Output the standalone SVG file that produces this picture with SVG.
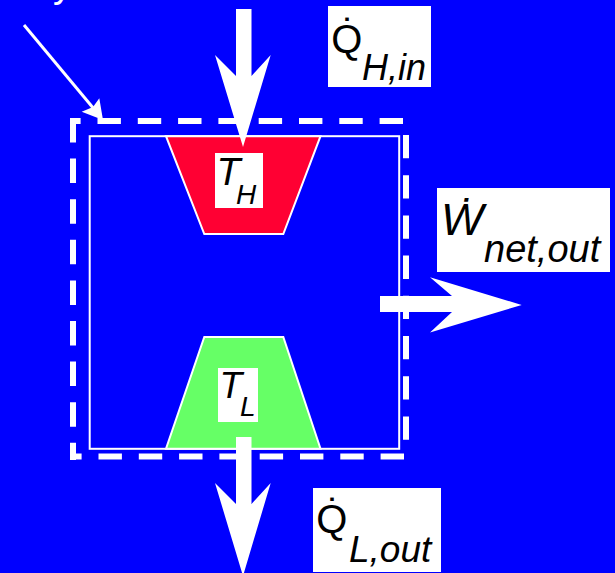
<svg xmlns="http://www.w3.org/2000/svg" width="615" height="573" viewBox="0 0 615 573">
<style>
.lbl{fill:#000;font-family:"Liberation Sans",Arial,sans-serif}
.it{font-style:italic}
.box{fill:#fff}
.arr{fill:#fff}
.dash{stroke:#fff;stroke-width:6;fill:none}
</style>
<rect x="0" y="0" width="615" height="573" fill="#0000FF"/>
<text x="53" y="-3" fill="#fff" font-family="Liberation Sans, Arial, sans-serif" font-size="38">y</text>
<g id="boundary">
<line class="dash" x1="403" y1="121" x2="70" y2="121" stroke-dasharray="23.4 16.9"/>
<line class="dash" x1="73" y1="118" x2="73" y2="460" stroke-dasharray="24.5 16.1"/>
<line class="dash" x1="404" y1="456.5" x2="70" y2="456.5" stroke-dasharray="23.4 16.9"/>
<line class="dash" x1="406" y1="135" x2="406" y2="445" stroke-dasharray="23.3 16.9"/>
</g>
<g id="engine">
<rect x="89.7" y="136.2" width="309.5" height="312.6" fill="none" stroke="#fff" stroke-width="2"/>
</g>
<g id="hot">
<polygon points="166,136.2 320.5,136.2 283.3,234 204.3,234" fill="#FF0033" stroke="#fff" stroke-width="2"/>
<rect class="box" x="215" y="153" width="48" height="55"/>
<text class="lbl it" x="216.5" y="185" font-size="39">T</text>
<text class="lbl it" x="236" y="204" font-size="28">H</text>
</g>
<g id="cold">
<polygon points="204.3,337 283.3,337 320.5,448.8 166,448.8" fill="#66FF66" stroke="#fff" stroke-width="2"/>
<rect class="box" x="218" y="368" width="40" height="54"/>
<text class="lbl it" x="219.5" y="398" font-size="37">T</text>
<text class="lbl it" x="240" y="416" font-size="28">L</text>
</g>
<g id="connectors">
<polygon class="arr" points="236,9 251.5,9 251.5,76 270.7,55 243,147 215,55 236,76"/>
<polygon class="arr" points="380,296 452,296 430,277.3 521.7,305 430,332.5 452,312 380,312"/>
<polygon class="arr" points="236,437 251.5,437 251.5,504 270.7,483 243,576 215,483 236,504"/>
<line x1="24" y1="25" x2="94" y2="109" stroke="#fff" stroke-width="3"/>
<polygon class="arr" points="103,120 81.7,111.7 93,107 99.3,98.3"/>
</g>
<g id="qhin">
<rect class="box" x="328" y="6" width="103" height="81"/>
<text class="lbl" x="331.3" y="52.5" font-size="40">Q&#x307;</text>
<text class="lbl it" x="362" y="80" font-size="36">H,in</text>
</g>
<g id="wnet">
<rect class="box" x="437" y="188" width="173" height="84"/>
<text class="lbl it" x="441" y="235" font-size="45">W&#x307;</text>
<text class="lbl it" x="484" y="262" font-size="38">net,out</text>
</g>
<g id="qlout">
<rect class="box" x="313" y="488" width="128" height="84"/>
<text class="lbl" x="316.3" y="532.5" font-size="40">Q&#x307;</text>
<text class="lbl it" x="349" y="562" font-size="37">L,out</text>
</g>
</svg>
